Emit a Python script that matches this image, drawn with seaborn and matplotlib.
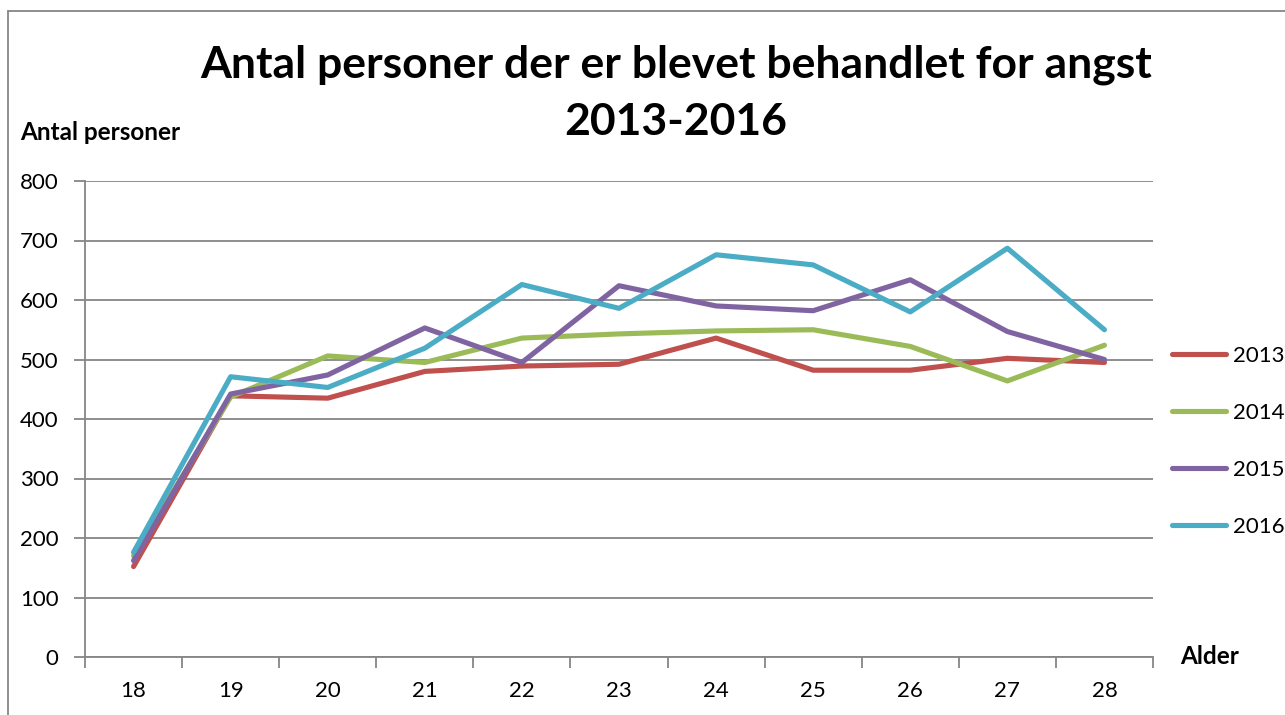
import matplotlib
matplotlib.use("Agg")
import matplotlib.pyplot as plt
import seaborn as sns
import pandas as pd
from matplotlib.lines import Line2D

ages = ["18", "19", "20", "21", "22", "23", "24", "25", "26", "27", "28"]
years = ["2013", "2014", "2015", "2016"]
v2013 = [152, 439, 435, 480, 489, 492, 536, 482, 482, 502, 495]
v2014 = [170, 437, 506, 495, 536, 543, 548, 550, 522, 464, 524]
v2015 = [162, 442, 474, 553, 495, 624, 590, 582, 634, 547, 500]
v2016 = [176, 471, 453, 519, 626, 586, 676, 659, 580, 687, 550]
colors = ["#C0504D", "#9BBB59", "#8064A2", "#4BACC6"]

rows = []
for yr, vals in zip(years, [v2013, v2014, v2015, v2016]):
    for i, (a, v) in enumerate(zip(ages, vals)):
        rows.append({"pos": i, "age": a, "year": yr, "value": v})
df = pd.DataFrame(rows)

sns.set_theme(style="white")
plt.rcParams["font.family"] = ["Lato", "DejaVu Sans"]
plt.rcParams["text.color"] = "black"
plt.rcParams["xtick.color"] = "black"
plt.rcParams["ytick.color"] = "black"

fig = plt.figure(figsize=(12.85, 7.15), dpi=100)
ax = fig.add_axes([85/1285, 1-657/715, (1153-85)/1285, (657-181)/715])

sns.lineplot(data=df, x="pos", y="value", hue="year", palette=colors,
             linewidth=3.7, ax=ax, legend=False, solid_capstyle="round")

grid_c = "#868686"
ax.set_xlim(-0.5, 10.5)
ax.set_ylim(0, 800)
ax.set_yticks(range(0, 801, 100))
ax.yaxis.grid(True, color=grid_c, linewidth=1.3)
ax.xaxis.grid(False)
ax.set_axisbelow(True)
for s in ["top", "right"]:
    ax.spines[s].set_visible(False)
for s in ["left", "bottom"]:
    ax.spines[s].set_color(grid_c)
    ax.spines[s].set_linewidth(1.3)

ax.set_xticks(range(len(ages)))
ax.set_xticklabels(ages)
ax.set_xticks([i - 0.5 for i in range(len(ages) + 1)], minor=True)
ax.tick_params(axis="x", which="major", length=0, pad=17, labelsize=16, labelcolor="black")
ax.tick_params(axis="x", which="minor", length=8, width=1.3, color=grid_c, bottom=True)
ax.tick_params(axis="y", which="major", length=8, width=1.3, color=grid_c, pad=11,
               labelsize=16, labelcolor="black", left=True)
ax.set_xlabel("")
ax.set_ylabel("")

fig.text(676/1285, 1-65/715, "Antal personer der er blevet behandlet for angst",
         ha="center", va="center", fontsize=32, fontweight="bold", color="black")
fig.text(676/1285, 1-122/715, "2013-2016",
         ha="center", va="center", fontsize=32, fontweight="bold", color="black")
fig.text(20/1285, 1-133/715, "Antal personer", ha="left", va="center",
         fontsize=17.5, fontweight="bold", color="black")
fig.text(1180/1285, 1-657/715, "Alder", ha="left", va="center",
         fontsize=17.5, fontweight="bold", color="black")

handles = [Line2D([0], [0], color=c, linewidth=3.7, solid_capstyle="round") for c in colors]
fig.legend(handles, years, loc="upper left", bbox_to_anchor=(1172/1285, 1-346/715),
           frameon=False, borderpad=0, borderaxespad=0, handlelength=2.45,
           handletextpad=0.28, labelspacing=1.66, fontsize=16, labelcolor="black")

# chart frame
fig.add_artist(Line2D([8/1285, 1], [1-11/715, 1-11/715], color=grid_c, linewidth=1.3))
fig.add_artist(Line2D([8/1285, 8/1285], [0, 1-11/715], color=grid_c, linewidth=1.3))

fig.savefig("out.png", dpi=100)
